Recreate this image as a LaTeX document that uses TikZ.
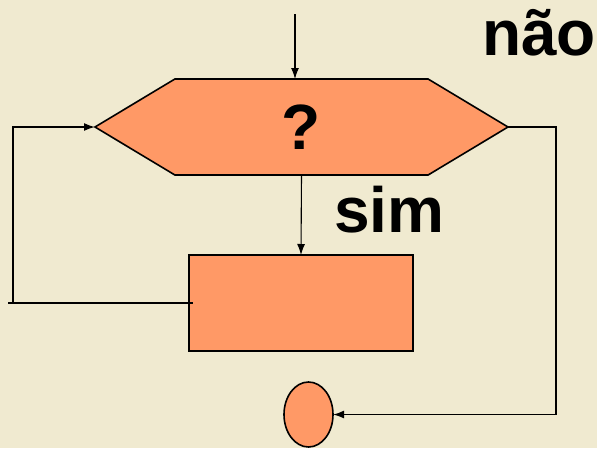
\documentclass[tikz,border=0pt]{standalone}
\usepackage{fontspec}
\setmainfont{Liberation Sans}
\usetikzlibrary{shapes.symbols,shapes.geometric,arrows.meta}
\definecolor{papel}{RGB}{240,234,208}
\definecolor{salmao}{RGB}{255,153,102}

\begin{document}
\begin{tikzpicture}[x=1pt,y=-1pt, >={Latex[length=11pt,width=8pt]},
        caixa/.style={draw, fill=salmao, line width=1.6pt, inner sep=0pt, outer sep=0pt},
        rotulo/.style={font=\bfseries\fontsize{64}{64}\selectfont, inner sep=0pt}]
    \fill[papel] (0,0) rectangle (597,448);
    \useasboundingbox (0,0) rectangle (597,448);

    % figuras
    \node[caixa, signal, signal to=west and east, signal pointer angle=62, minimum width=413pt, minimum height=96pt, rotulo] (teste) at (301.5,127) {?};
    \node[caixa, minimum width=224pt, minimum height=96pt] (bloco) at (301,303) {};
    \node[caixa, ellipse, minimum width=49pt, minimum height=65pt] (fim) at (308.5,414.5) {};

    % textos
    \node[rotulo, anchor=base west] (nao) at (482,55) {não};
    \node[rotulo, anchor=base west] (sim) at (334,232) {sim};

    % ligacoes
    \coordinate (entrada) at (295,14); \coordinate (cauda) at (8,303); \coordinate (canto) at (13,303); \coordinate (volta) at (556,0);
    \draw[->, line width=1.1pt] (entrada) -- (entrada |- teste.north);
    \draw[->, line width=1.1pt] (teste.south) -- (bloco.north);
    \draw[line width=1.6pt] (cauda) -- ([xshift=4pt]bloco.west);
    \draw[->, line width=1.6pt] (canto) |- (teste.west);
    \draw[->, line width=1.6pt] (teste.east) -| (volta |- fim.east) -- (fim.east);
\end{tikzpicture}
\end{document}
